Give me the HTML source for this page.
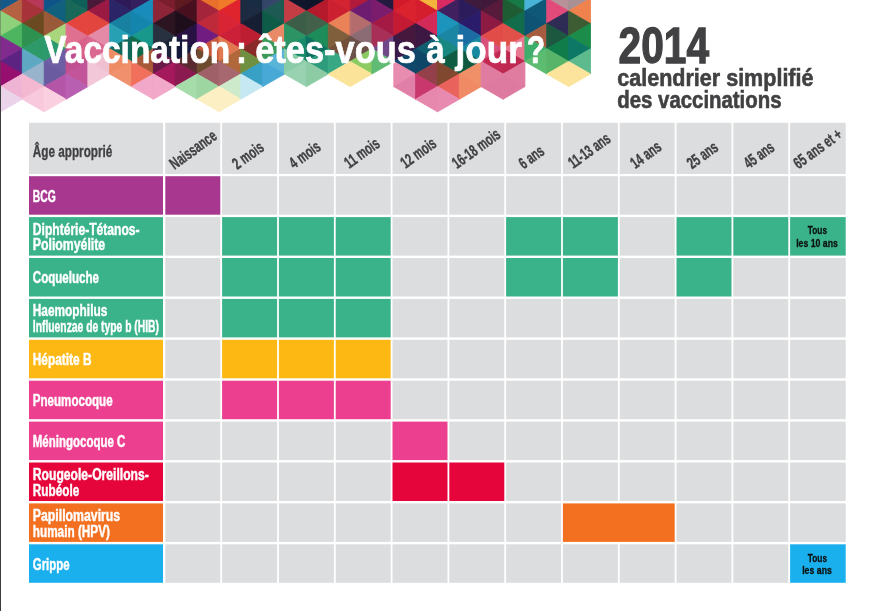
<!DOCTYPE html><html lang="fr"><head><meta charset="utf-8"><title>Vaccination : êtes-vous à jour ? 2014</title>
<style>html,body{margin:0;padding:0;background:#fff}svg{display:block}text{font-family:"Liberation Sans",sans-serif;font-weight:bold}</style></head><body>
<svg width="874" height="611" viewBox="0 0 874 611">
<rect width="874" height="611" fill="#fff"/>
<g shape-rendering="geometricPrecision">
<polygon points="0.50,-14.20 0.50,11.00 22.35,-1.60" fill="#15588A" stroke="#15588A" stroke-width="0.9" stroke-linejoin="round"/>
<polygon points="22.35,-1.60 22.35,23.60 0.50,11.00" fill="#B46242" stroke="#B46242" stroke-width="0.9" stroke-linejoin="round"/>
<polygon points="0.50,11.00 0.50,36.20 22.35,23.60" fill="#8FD07A" stroke="#8FD07A" stroke-width="0.9" stroke-linejoin="round"/>
<polygon points="22.35,23.60 22.35,48.80 0.50,36.20" fill="#4DB560" stroke="#4DB560" stroke-width="0.9" stroke-linejoin="round"/>
<polygon points="0.50,36.20 0.50,61.40 22.35,48.80" fill="#812B8E" stroke="#812B8E" stroke-width="0.9" stroke-linejoin="round"/>
<polygon points="22.35,48.80 22.35,74.00 0.50,61.40" fill="#5C2382" stroke="#5C2382" stroke-width="0.9" stroke-linejoin="round"/>
<polygon points="0.50,61.40 0.50,86.60 22.35,74.00" fill="#960F6F" stroke="#960F6F" stroke-width="0.9" stroke-linejoin="round"/>
<polygon points="22.35,74.00 22.35,99.20 0.50,86.60" fill="#EFB4D4" stroke="#EFB4D4" stroke-width="0.9" stroke-linejoin="round"/>
<polygon points="0.50,86.60 0.50,111.80 22.35,99.20" fill="#EBD3EA" stroke="#EBD3EA" stroke-width="0.9" stroke-linejoin="round"/>
<polygon points="44.20,-14.20 44.20,11.00 22.35,-1.60" fill="#B8385A" stroke="#B8385A" stroke-width="0.9" stroke-linejoin="round"/>
<polygon points="22.35,-1.60 22.35,23.60 44.20,11.00" fill="#A8323A" stroke="#A8323A" stroke-width="0.9" stroke-linejoin="round"/>
<polygon points="44.20,11.00 44.20,36.20 22.35,23.60" fill="#6B4A22" stroke="#6B4A22" stroke-width="0.9" stroke-linejoin="round"/>
<polygon points="22.35,23.60 22.35,48.80 44.20,36.20" fill="#2F9150" stroke="#2F9150" stroke-width="0.9" stroke-linejoin="round"/>
<polygon points="44.20,36.20 44.20,61.40 22.35,48.80" fill="#2E9A6A" stroke="#2E9A6A" stroke-width="0.9" stroke-linejoin="round"/>
<polygon points="22.35,48.80 22.35,74.00 44.20,61.40" fill="#5FA8C4" stroke="#5FA8C4" stroke-width="0.9" stroke-linejoin="round"/>
<polygon points="44.20,61.40 44.20,86.60 22.35,74.00" fill="#98B4CC" stroke="#98B4CC" stroke-width="0.9" stroke-linejoin="round"/>
<polygon points="22.35,74.00 22.35,99.20 44.20,86.60" fill="#F4B8D0" stroke="#F4B8D0" stroke-width="0.9" stroke-linejoin="round"/>
<polygon points="44.20,86.60 44.20,111.80 22.35,99.20" fill="#F8C8DC" stroke="#F8C8DC" stroke-width="0.9" stroke-linejoin="round"/>
<polygon points="44.20,-14.20 44.20,11.00 66.05,-1.60" fill="#0F5488" stroke="#0F5488" stroke-width="0.9" stroke-linejoin="round"/>
<polygon points="66.05,-1.60 66.05,23.60 44.20,11.00" fill="#10607E" stroke="#10607E" stroke-width="0.9" stroke-linejoin="round"/>
<polygon points="44.20,11.00 44.20,36.20 66.05,23.60" fill="#9A5A3A" stroke="#9A5A3A" stroke-width="0.9" stroke-linejoin="round"/>
<polygon points="66.05,23.60 66.05,48.80 44.20,36.20" fill="#A8D67C" stroke="#A8D67C" stroke-width="0.9" stroke-linejoin="round"/>
<polygon points="44.20,36.20 44.20,61.40 66.05,48.80" fill="#2C9A6C" stroke="#2C9A6C" stroke-width="0.9" stroke-linejoin="round"/>
<polygon points="66.05,48.80 66.05,74.00 44.20,61.40" fill="#6E5FA5" stroke="#6E5FA5" stroke-width="0.9" stroke-linejoin="round"/>
<polygon points="44.20,61.40 44.20,86.60 66.05,74.00" fill="#6A5BA0" stroke="#6A5BA0" stroke-width="0.9" stroke-linejoin="round"/>
<polygon points="66.05,74.00 66.05,99.20 44.20,86.60" fill="#B455A8" stroke="#B455A8" stroke-width="0.9" stroke-linejoin="round"/>
<polygon points="44.20,86.60 44.20,111.80 66.05,99.20" fill="#FAD0E0" stroke="#FAD0E0" stroke-width="0.9" stroke-linejoin="round"/>
<polygon points="87.90,-14.20 87.90,11.00 66.05,-1.60" fill="#0E5F58" stroke="#0E5F58" stroke-width="0.9" stroke-linejoin="round"/>
<polygon points="66.05,-1.60 66.05,23.60 87.90,11.00" fill="#1A6858" stroke="#1A6858" stroke-width="0.9" stroke-linejoin="round"/>
<polygon points="87.90,11.00 87.90,36.20 66.05,23.60" fill="#E4453F" stroke="#E4453F" stroke-width="0.9" stroke-linejoin="round"/>
<polygon points="66.05,23.60 66.05,48.80 87.90,36.20" fill="#E0708F" stroke="#E0708F" stroke-width="0.9" stroke-linejoin="round"/>
<polygon points="87.90,36.20 87.90,61.40 66.05,48.80" fill="#D9608A" stroke="#D9608A" stroke-width="0.9" stroke-linejoin="round"/>
<polygon points="66.05,48.80 66.05,74.00 87.90,61.40" fill="#C0508F" stroke="#C0508F" stroke-width="0.9" stroke-linejoin="round"/>
<polygon points="87.90,61.40 87.90,86.60 66.05,74.00" fill="#C2559A" stroke="#C2559A" stroke-width="0.9" stroke-linejoin="round"/>
<polygon points="66.05,74.00 66.05,99.20 87.90,86.60" fill="#B95FB2" stroke="#B95FB2" stroke-width="0.9" stroke-linejoin="round"/>
<polygon points="87.90,-14.20 87.90,11.00 109.75,-1.60" fill="#4A1838" stroke="#4A1838" stroke-width="0.9" stroke-linejoin="round"/>
<polygon points="109.75,-1.60 109.75,23.60 87.90,11.00" fill="#9A1A44" stroke="#9A1A44" stroke-width="0.9" stroke-linejoin="round"/>
<polygon points="87.90,11.00 87.90,36.20 109.75,23.60" fill="#E2453D" stroke="#E2453D" stroke-width="0.9" stroke-linejoin="round"/>
<polygon points="109.75,23.60 109.75,48.80 87.90,36.20" fill="#E58AA6" stroke="#E58AA6" stroke-width="0.9" stroke-linejoin="round"/>
<polygon points="87.90,36.20 87.90,61.40 109.75,48.80" fill="#DA6890" stroke="#DA6890" stroke-width="0.9" stroke-linejoin="round"/>
<polygon points="109.75,48.80 109.75,74.00 87.90,61.40" fill="#EFC0D0" stroke="#EFC0D0" stroke-width="0.9" stroke-linejoin="round"/>
<polygon points="87.90,61.40 87.90,86.60 109.75,74.00" fill="#F2C8D8" stroke="#F2C8D8" stroke-width="0.9" stroke-linejoin="round"/>
<polygon points="131.60,-14.20 131.60,11.00 109.75,-1.60" fill="#2E1A58" stroke="#2E1A58" stroke-width="0.9" stroke-linejoin="round"/>
<polygon points="109.75,-1.60 109.75,23.60 131.60,11.00" fill="#2B2466" stroke="#2B2466" stroke-width="0.9" stroke-linejoin="round"/>
<polygon points="131.60,11.00 131.60,36.20 109.75,23.60" fill="#1880A0" stroke="#1880A0" stroke-width="0.9" stroke-linejoin="round"/>
<polygon points="109.75,23.60 109.75,48.80 131.60,36.20" fill="#28A0B4" stroke="#28A0B4" stroke-width="0.9" stroke-linejoin="round"/>
<polygon points="131.60,36.20 131.60,61.40 109.75,48.80" fill="#106858" stroke="#106858" stroke-width="0.9" stroke-linejoin="round"/>
<polygon points="109.75,48.80 109.75,74.00 131.60,61.40" fill="#EE8C64" stroke="#EE8C64" stroke-width="0.9" stroke-linejoin="round"/>
<polygon points="131.60,61.40 131.60,86.60 109.75,74.00" fill="#F0906C" stroke="#F0906C" stroke-width="0.9" stroke-linejoin="round"/>
<polygon points="131.60,-14.20 131.60,11.00 153.45,-1.60" fill="#35205E" stroke="#35205E" stroke-width="0.9" stroke-linejoin="round"/>
<polygon points="153.45,-1.60 153.45,23.60 131.60,11.00" fill="#1A8CBC" stroke="#1A8CBC" stroke-width="0.9" stroke-linejoin="round"/>
<polygon points="131.60,11.00 131.60,36.20 153.45,23.60" fill="#1486AE" stroke="#1486AE" stroke-width="0.9" stroke-linejoin="round"/>
<polygon points="153.45,23.60 153.45,48.80 131.60,36.20" fill="#18988A" stroke="#18988A" stroke-width="0.9" stroke-linejoin="round"/>
<polygon points="131.60,36.20 131.60,61.40 153.45,48.80" fill="#0F6A4A" stroke="#0F6A4A" stroke-width="0.9" stroke-linejoin="round"/>
<polygon points="153.45,48.80 153.45,74.00 131.60,61.40" fill="#A85A38" stroke="#A85A38" stroke-width="0.9" stroke-linejoin="round"/>
<polygon points="131.60,61.40 131.60,86.60 153.45,74.00" fill="#F0705C" stroke="#F0705C" stroke-width="0.9" stroke-linejoin="round"/>
<polygon points="153.45,74.00 153.45,99.20 131.60,86.60" fill="#F2A8C8" stroke="#F2A8C8" stroke-width="0.9" stroke-linejoin="round"/>
<polygon points="175.30,-14.20 175.30,11.00 153.45,-1.60" fill="#7A1E2E" stroke="#7A1E2E" stroke-width="0.9" stroke-linejoin="round"/>
<polygon points="153.45,-1.60 153.45,23.60 175.30,11.00" fill="#8E2438" stroke="#8E2438" stroke-width="0.9" stroke-linejoin="round"/>
<polygon points="175.30,11.00 175.30,36.20 153.45,23.60" fill="#2C1420" stroke="#2C1420" stroke-width="0.9" stroke-linejoin="round"/>
<polygon points="153.45,23.60 153.45,48.80 175.30,36.20" fill="#27313F" stroke="#27313F" stroke-width="0.9" stroke-linejoin="round"/>
<polygon points="175.30,36.20 175.30,61.40 153.45,48.80" fill="#1A2238" stroke="#1A2238" stroke-width="0.9" stroke-linejoin="round"/>
<polygon points="153.45,48.80 153.45,74.00 175.30,61.40" fill="#6A1A48" stroke="#6A1A48" stroke-width="0.9" stroke-linejoin="round"/>
<polygon points="175.30,61.40 175.30,86.60 153.45,74.00" fill="#A4185C" stroke="#A4185C" stroke-width="0.9" stroke-linejoin="round"/>
<polygon points="153.45,74.00 153.45,99.20 175.30,86.60" fill="#F2A8C8" stroke="#F2A8C8" stroke-width="0.9" stroke-linejoin="round"/>
<polygon points="175.30,-14.20 175.30,11.00 197.15,-1.60" fill="#5E1A20" stroke="#5E1A20" stroke-width="0.9" stroke-linejoin="round"/>
<polygon points="197.15,-1.60 197.15,23.60 175.30,11.00" fill="#48101E" stroke="#48101E" stroke-width="0.9" stroke-linejoin="round"/>
<polygon points="175.30,11.00 175.30,36.20 197.15,23.60" fill="#1E0E1C" stroke="#1E0E1C" stroke-width="0.9" stroke-linejoin="round"/>
<polygon points="197.15,23.60 197.15,48.80 175.30,36.20" fill="#281244" stroke="#281244" stroke-width="0.9" stroke-linejoin="round"/>
<polygon points="175.30,36.20 175.30,61.40 197.15,48.80" fill="#14183A" stroke="#14183A" stroke-width="0.9" stroke-linejoin="round"/>
<polygon points="197.15,48.80 197.15,74.00 175.30,61.40" fill="#5A2A30" stroke="#5A2A30" stroke-width="0.9" stroke-linejoin="round"/>
<polygon points="175.30,61.40 175.30,86.60 197.15,74.00" fill="#8A1A50" stroke="#8A1A50" stroke-width="0.9" stroke-linejoin="round"/>
<polygon points="197.15,74.00 197.15,99.20 175.30,86.60" fill="#A6DBAA" stroke="#A6DBAA" stroke-width="0.9" stroke-linejoin="round"/>
<polygon points="219.00,-14.20 219.00,11.00 197.15,-1.60" fill="#E8702A" stroke="#E8702A" stroke-width="0.9" stroke-linejoin="round"/>
<polygon points="197.15,-1.60 197.15,23.60 219.00,11.00" fill="#A4243C" stroke="#A4243C" stroke-width="0.9" stroke-linejoin="round"/>
<polygon points="219.00,11.00 219.00,36.20 197.15,23.60" fill="#BE2A3A" stroke="#BE2A3A" stroke-width="0.9" stroke-linejoin="round"/>
<polygon points="197.15,23.60 197.15,48.80 219.00,36.20" fill="#701C80" stroke="#701C80" stroke-width="0.9" stroke-linejoin="round"/>
<polygon points="219.00,36.20 219.00,61.40 197.15,48.80" fill="#C8583C" stroke="#C8583C" stroke-width="0.9" stroke-linejoin="round"/>
<polygon points="197.15,48.80 197.15,74.00 219.00,61.40" fill="#6E4A2E" stroke="#6E4A2E" stroke-width="0.9" stroke-linejoin="round"/>
<polygon points="219.00,61.40 219.00,86.60 197.15,74.00" fill="#A06068" stroke="#A06068" stroke-width="0.9" stroke-linejoin="round"/>
<polygon points="197.15,74.00 197.15,99.20 219.00,86.60" fill="#9ED6A2" stroke="#9ED6A2" stroke-width="0.9" stroke-linejoin="round"/>
<polygon points="219.00,86.60 219.00,111.80 197.15,99.20" fill="#FDEFC4" stroke="#FDEFC4" stroke-width="0.9" stroke-linejoin="round"/>
<polygon points="219.00,-14.20 219.00,11.00 240.85,-1.60" fill="#F07A2A" stroke="#F07A2A" stroke-width="0.9" stroke-linejoin="round"/>
<polygon points="240.85,-1.60 240.85,23.60 219.00,11.00" fill="#E0242E" stroke="#E0242E" stroke-width="0.9" stroke-linejoin="round"/>
<polygon points="219.00,11.00 219.00,36.20 240.85,23.60" fill="#D82434" stroke="#D82434" stroke-width="0.9" stroke-linejoin="round"/>
<polygon points="240.85,23.60 240.85,48.80 219.00,36.20" fill="#CC2038" stroke="#CC2038" stroke-width="0.9" stroke-linejoin="round"/>
<polygon points="219.00,36.20 219.00,61.40 240.85,48.80" fill="#E07850" stroke="#E07850" stroke-width="0.9" stroke-linejoin="round"/>
<polygon points="240.85,48.80 240.85,74.00 219.00,61.40" fill="#B0683A" stroke="#B0683A" stroke-width="0.9" stroke-linejoin="round"/>
<polygon points="219.00,61.40 219.00,86.60 240.85,74.00" fill="#A86870" stroke="#A86870" stroke-width="0.9" stroke-linejoin="round"/>
<polygon points="240.85,74.00 240.85,99.20 219.00,86.60" fill="#CDEBCB" stroke="#CDEBCB" stroke-width="0.9" stroke-linejoin="round"/>
<polygon points="219.00,86.60 219.00,111.80 240.85,99.20" fill="#FDEFC4" stroke="#FDEFC4" stroke-width="0.9" stroke-linejoin="round"/>
<polygon points="262.70,-14.20 262.70,11.00 240.85,-1.60" fill="#182C44" stroke="#182C44" stroke-width="0.9" stroke-linejoin="round"/>
<polygon points="240.85,-1.60 240.85,23.60 262.70,11.00" fill="#1C2A42" stroke="#1C2A42" stroke-width="0.9" stroke-linejoin="round"/>
<polygon points="262.70,11.00 262.70,36.20 240.85,23.60" fill="#161E34" stroke="#161E34" stroke-width="0.9" stroke-linejoin="round"/>
<polygon points="240.85,23.60 240.85,48.80 262.70,36.20" fill="#BE1E32" stroke="#BE1E32" stroke-width="0.9" stroke-linejoin="round"/>
<polygon points="262.70,36.20 262.70,61.40 240.85,48.80" fill="#8A2A28" stroke="#8A2A28" stroke-width="0.9" stroke-linejoin="round"/>
<polygon points="240.85,48.80 240.85,74.00 262.70,61.40" fill="#6E9040" stroke="#6E9040" stroke-width="0.9" stroke-linejoin="round"/>
<polygon points="262.70,61.40 262.70,86.60 240.85,74.00" fill="#38A0C4" stroke="#38A0C4" stroke-width="0.9" stroke-linejoin="round"/>
<polygon points="240.85,74.00 240.85,99.20 262.70,86.60" fill="#C6E8F2" stroke="#C6E8F2" stroke-width="0.9" stroke-linejoin="round"/>
<polygon points="262.70,-14.20 262.70,11.00 284.55,-1.60" fill="#34466A" stroke="#34466A" stroke-width="0.9" stroke-linejoin="round"/>
<polygon points="284.55,-1.60 284.55,23.60 262.70,11.00" fill="#1E5A54" stroke="#1E5A54" stroke-width="0.9" stroke-linejoin="round"/>
<polygon points="262.70,11.00 262.70,36.20 284.55,23.60" fill="#0E5C48" stroke="#0E5C48" stroke-width="0.9" stroke-linejoin="round"/>
<polygon points="284.55,23.60 284.55,48.80 262.70,36.20" fill="#E88A68" stroke="#E88A68" stroke-width="0.9" stroke-linejoin="round"/>
<polygon points="262.70,36.20 262.70,61.40 284.55,48.80" fill="#3A9A5A" stroke="#3A9A5A" stroke-width="0.9" stroke-linejoin="round"/>
<polygon points="284.55,48.80 284.55,74.00 262.70,61.40" fill="#5AB4D8" stroke="#5AB4D8" stroke-width="0.9" stroke-linejoin="round"/>
<polygon points="262.70,61.40 262.70,86.60 284.55,74.00" fill="#48A8D6" stroke="#48A8D6" stroke-width="0.9" stroke-linejoin="round"/>
<polygon points="306.40,-14.20 306.40,11.00 284.55,-1.60" fill="#10162C" stroke="#10162C" stroke-width="0.9" stroke-linejoin="round"/>
<polygon points="284.55,-1.60 284.55,23.60 306.40,11.00" fill="#C43C44" stroke="#C43C44" stroke-width="0.9" stroke-linejoin="round"/>
<polygon points="306.40,11.00 306.40,36.20 284.55,23.60" fill="#3C5E48" stroke="#3C5E48" stroke-width="0.9" stroke-linejoin="round"/>
<polygon points="284.55,23.60 284.55,48.80 306.40,36.20" fill="#2C9464" stroke="#2C9464" stroke-width="0.9" stroke-linejoin="round"/>
<polygon points="306.40,36.20 306.40,61.40 284.55,48.80" fill="#1A8A6A" stroke="#1A8A6A" stroke-width="0.9" stroke-linejoin="round"/>
<polygon points="284.55,48.80 284.55,74.00 306.40,61.40" fill="#8ACCA8" stroke="#8ACCA8" stroke-width="0.9" stroke-linejoin="round"/>
<polygon points="306.40,61.40 306.40,86.60 284.55,74.00" fill="#98D2B0" stroke="#98D2B0" stroke-width="0.9" stroke-linejoin="round"/>
<polygon points="306.40,-14.20 306.40,11.00 328.25,-1.60" fill="#0E142A" stroke="#0E142A" stroke-width="0.9" stroke-linejoin="round"/>
<polygon points="328.25,-1.60 328.25,23.60 306.40,11.00" fill="#B41A2C" stroke="#B41A2C" stroke-width="0.9" stroke-linejoin="round"/>
<polygon points="306.40,11.00 306.40,36.20 328.25,23.60" fill="#42604A" stroke="#42604A" stroke-width="0.9" stroke-linejoin="round"/>
<polygon points="328.25,23.60 328.25,48.80 306.40,36.20" fill="#1C8C5A" stroke="#1C8C5A" stroke-width="0.9" stroke-linejoin="round"/>
<polygon points="306.40,36.20 306.40,61.40 328.25,48.80" fill="#0F7060" stroke="#0F7060" stroke-width="0.9" stroke-linejoin="round"/>
<polygon points="328.25,48.80 328.25,74.00 306.40,61.40" fill="#2E9C7C" stroke="#2E9C7C" stroke-width="0.9" stroke-linejoin="round"/>
<polygon points="306.40,61.40 306.40,86.60 328.25,74.00" fill="#8CCBA4" stroke="#8CCBA4" stroke-width="0.9" stroke-linejoin="round"/>
<polygon points="350.10,-14.20 350.10,11.00 328.25,-1.60" fill="#D42432" stroke="#D42432" stroke-width="0.9" stroke-linejoin="round"/>
<polygon points="328.25,-1.60 328.25,23.60 350.10,11.00" fill="#CC2030" stroke="#CC2030" stroke-width="0.9" stroke-linejoin="round"/>
<polygon points="350.10,11.00 350.10,36.20 328.25,23.60" fill="#EA8258" stroke="#EA8258" stroke-width="0.9" stroke-linejoin="round"/>
<polygon points="328.25,23.60 328.25,48.80 350.10,36.20" fill="#80603C" stroke="#80603C" stroke-width="0.9" stroke-linejoin="round"/>
<polygon points="350.10,36.20 350.10,61.40 328.25,48.80" fill="#74503A" stroke="#74503A" stroke-width="0.9" stroke-linejoin="round"/>
<polygon points="328.25,48.80 328.25,74.00 350.10,61.40" fill="#38A884" stroke="#38A884" stroke-width="0.9" stroke-linejoin="round"/>
<polygon points="350.10,61.40 350.10,86.60 328.25,74.00" fill="#FBE49A" stroke="#FBE49A" stroke-width="0.9" stroke-linejoin="round"/>
<polygon points="350.10,-14.20 350.10,11.00 371.95,-1.60" fill="#B21A3C" stroke="#B21A3C" stroke-width="0.9" stroke-linejoin="round"/>
<polygon points="371.95,-1.60 371.95,23.60 350.10,11.00" fill="#6E1C70" stroke="#6E1C70" stroke-width="0.9" stroke-linejoin="round"/>
<polygon points="350.10,11.00 350.10,36.20 371.95,23.60" fill="#B46C6C" stroke="#B46C6C" stroke-width="0.9" stroke-linejoin="round"/>
<polygon points="371.95,23.60 371.95,48.80 350.10,36.20" fill="#8C6C74" stroke="#8C6C74" stroke-width="0.9" stroke-linejoin="round"/>
<polygon points="350.10,36.20 350.10,61.40 371.95,48.80" fill="#6A5048" stroke="#6A5048" stroke-width="0.9" stroke-linejoin="round"/>
<polygon points="371.95,48.80 371.95,74.00 350.10,61.40" fill="#8CCB62" stroke="#8CCB62" stroke-width="0.9" stroke-linejoin="round"/>
<polygon points="350.10,61.40 350.10,86.60 371.95,74.00" fill="#FBE49A" stroke="#FBE49A" stroke-width="0.9" stroke-linejoin="round"/>
<polygon points="393.80,-14.20 393.80,11.00 371.95,-1.60" fill="#241A40" stroke="#241A40" stroke-width="0.9" stroke-linejoin="round"/>
<polygon points="371.95,-1.60 371.95,23.60 393.80,11.00" fill="#7C1C6C" stroke="#7C1C6C" stroke-width="0.9" stroke-linejoin="round"/>
<polygon points="393.80,11.00 393.80,36.20 371.95,23.60" fill="#A41A44" stroke="#A41A44" stroke-width="0.9" stroke-linejoin="round"/>
<polygon points="371.95,23.60 371.95,48.80 393.80,36.20" fill="#A83058" stroke="#A83058" stroke-width="0.9" stroke-linejoin="round"/>
<polygon points="393.80,36.20 393.80,61.40 371.95,48.80" fill="#70488A" stroke="#70488A" stroke-width="0.9" stroke-linejoin="round"/>
<polygon points="371.95,48.80 371.95,74.00 393.80,61.40" fill="#60BC74" stroke="#60BC74" stroke-width="0.9" stroke-linejoin="round"/>
<polygon points="393.80,-14.20 393.80,11.00 415.65,-1.60" fill="#D21A2A" stroke="#D21A2A" stroke-width="0.9" stroke-linejoin="round"/>
<polygon points="415.65,-1.60 415.65,23.60 393.80,11.00" fill="#DA222E" stroke="#DA222E" stroke-width="0.9" stroke-linejoin="round"/>
<polygon points="393.80,11.00 393.80,36.20 415.65,23.60" fill="#C41A34" stroke="#C41A34" stroke-width="0.9" stroke-linejoin="round"/>
<polygon points="415.65,23.60 415.65,48.80 393.80,36.20" fill="#46183E" stroke="#46183E" stroke-width="0.9" stroke-linejoin="round"/>
<polygon points="393.80,36.20 393.80,61.40 415.65,48.80" fill="#3A1A48" stroke="#3A1A48" stroke-width="0.9" stroke-linejoin="round"/>
<polygon points="415.65,48.80 415.65,74.00 393.80,61.40" fill="#10486C" stroke="#10486C" stroke-width="0.9" stroke-linejoin="round"/>
<polygon points="393.80,61.40 393.80,86.60 415.65,74.00" fill="#E88CB0" stroke="#E88CB0" stroke-width="0.9" stroke-linejoin="round"/>
<polygon points="415.65,74.00 415.65,99.20 393.80,86.60" fill="#E080A8" stroke="#E080A8" stroke-width="0.9" stroke-linejoin="round"/>
<polygon points="437.50,-14.20 437.50,11.00 415.65,-1.60" fill="#F2B43A" stroke="#F2B43A" stroke-width="0.9" stroke-linejoin="round"/>
<polygon points="415.65,-1.60 415.65,23.60 437.50,11.00" fill="#D41E2E" stroke="#D41E2E" stroke-width="0.9" stroke-linejoin="round"/>
<polygon points="437.50,11.00 437.50,36.20 415.65,23.60" fill="#D42A5A" stroke="#D42A5A" stroke-width="0.9" stroke-linejoin="round"/>
<polygon points="415.65,23.60 415.65,48.80 437.50,36.20" fill="#3C1842" stroke="#3C1842" stroke-width="0.9" stroke-linejoin="round"/>
<polygon points="437.50,36.20 437.50,61.40 415.65,48.80" fill="#0E5E70" stroke="#0E5E70" stroke-width="0.9" stroke-linejoin="round"/>
<polygon points="415.65,48.80 415.65,74.00 437.50,61.40" fill="#0E4668" stroke="#0E4668" stroke-width="0.9" stroke-linejoin="round"/>
<polygon points="437.50,61.40 437.50,86.60 415.65,74.00" fill="#94404A" stroke="#94404A" stroke-width="0.9" stroke-linejoin="round"/>
<polygon points="415.65,74.00 415.65,99.20 437.50,86.60" fill="#C8386C" stroke="#C8386C" stroke-width="0.9" stroke-linejoin="round"/>
<polygon points="437.50,86.60 437.50,111.80 415.65,99.20" fill="#E687AE" stroke="#E687AE" stroke-width="0.9" stroke-linejoin="round"/>
<polygon points="437.50,-14.20 437.50,11.00 459.35,-1.60" fill="#DA2A62" stroke="#DA2A62" stroke-width="0.9" stroke-linejoin="round"/>
<polygon points="459.35,-1.60 459.35,23.60 437.50,11.00" fill="#40205E" stroke="#40205E" stroke-width="0.9" stroke-linejoin="round"/>
<polygon points="437.50,11.00 437.50,36.20 459.35,23.60" fill="#1C94BC" stroke="#1C94BC" stroke-width="0.9" stroke-linejoin="round"/>
<polygon points="459.35,23.60 459.35,48.80 437.50,36.20" fill="#1A86A4" stroke="#1A86A4" stroke-width="0.9" stroke-linejoin="round"/>
<polygon points="437.50,36.20 437.50,61.40 459.35,48.80" fill="#188880" stroke="#188880" stroke-width="0.9" stroke-linejoin="round"/>
<polygon points="459.35,48.80 459.35,74.00 437.50,61.40" fill="#0E5C42" stroke="#0E5C42" stroke-width="0.9" stroke-linejoin="round"/>
<polygon points="437.50,61.40 437.50,86.60 459.35,74.00" fill="#80482E" stroke="#80482E" stroke-width="0.9" stroke-linejoin="round"/>
<polygon points="459.35,74.00 459.35,99.20 437.50,86.60" fill="#EA625C" stroke="#EA625C" stroke-width="0.9" stroke-linejoin="round"/>
<polygon points="437.50,86.60 437.50,111.80 459.35,99.20" fill="#E88AB0" stroke="#E88AB0" stroke-width="0.9" stroke-linejoin="round"/>
<polygon points="481.20,-14.20 481.20,11.00 459.35,-1.60" fill="#3E1A3C" stroke="#3E1A3C" stroke-width="0.9" stroke-linejoin="round"/>
<polygon points="459.35,-1.60 459.35,23.60 481.20,11.00" fill="#2C1C5C" stroke="#2C1C5C" stroke-width="0.9" stroke-linejoin="round"/>
<polygon points="481.20,11.00 481.20,36.20 459.35,23.60" fill="#2A1C6A" stroke="#2A1C6A" stroke-width="0.9" stroke-linejoin="round"/>
<polygon points="459.35,23.60 459.35,48.80 481.20,36.20" fill="#1C6CA4" stroke="#1C6CA4" stroke-width="0.9" stroke-linejoin="round"/>
<polygon points="481.20,36.20 481.20,61.40 459.35,48.80" fill="#1888A0" stroke="#1888A0" stroke-width="0.9" stroke-linejoin="round"/>
<polygon points="459.35,48.80 459.35,74.00 481.20,61.40" fill="#0E5A40" stroke="#0E5A40" stroke-width="0.9" stroke-linejoin="round"/>
<polygon points="481.20,61.40 481.20,86.60 459.35,74.00" fill="#F09068" stroke="#F09068" stroke-width="0.9" stroke-linejoin="round"/>
<polygon points="459.35,74.00 459.35,99.20 481.20,86.60" fill="#F08A64" stroke="#F08A64" stroke-width="0.9" stroke-linejoin="round"/>
<polygon points="481.20,-14.20 481.20,11.00 503.05,-1.60" fill="#40183A" stroke="#40183A" stroke-width="0.9" stroke-linejoin="round"/>
<polygon points="503.05,-1.60 503.05,23.60 481.20,11.00" fill="#581A3A" stroke="#581A3A" stroke-width="0.9" stroke-linejoin="round"/>
<polygon points="481.20,11.00 481.20,36.20 503.05,23.60" fill="#8C1A42" stroke="#8C1A42" stroke-width="0.9" stroke-linejoin="round"/>
<polygon points="503.05,23.60 503.05,48.80 481.20,36.20" fill="#E24C48" stroke="#E24C48" stroke-width="0.9" stroke-linejoin="round"/>
<polygon points="481.20,36.20 481.20,61.40 503.05,48.80" fill="#D8507A" stroke="#D8507A" stroke-width="0.9" stroke-linejoin="round"/>
<polygon points="503.05,48.80 503.05,74.00 481.20,61.40" fill="#C22A54" stroke="#C22A54" stroke-width="0.9" stroke-linejoin="round"/>
<polygon points="481.20,61.40 481.20,86.60 503.05,74.00" fill="#E07CA0" stroke="#E07CA0" stroke-width="0.9" stroke-linejoin="round"/>
<polygon points="503.05,74.00 503.05,99.20 481.20,86.60" fill="#DE7AA0" stroke="#DE7AA0" stroke-width="0.9" stroke-linejoin="round"/>
<polygon points="524.90,-14.20 524.90,11.00 503.05,-1.60" fill="#157A48" stroke="#157A48" stroke-width="0.9" stroke-linejoin="round"/>
<polygon points="503.05,-1.60 503.05,23.60 524.90,11.00" fill="#1E5C34" stroke="#1E5C34" stroke-width="0.9" stroke-linejoin="round"/>
<polygon points="524.90,11.00 524.90,36.20 503.05,23.60" fill="#106C4A" stroke="#106C4A" stroke-width="0.9" stroke-linejoin="round"/>
<polygon points="503.05,23.60 503.05,48.80 524.90,36.20" fill="#E2504A" stroke="#E2504A" stroke-width="0.9" stroke-linejoin="round"/>
<polygon points="524.90,36.20 524.90,61.40 503.05,48.80" fill="#E87890" stroke="#E87890" stroke-width="0.9" stroke-linejoin="round"/>
<polygon points="503.05,48.80 503.05,74.00 524.90,61.40" fill="#BE2850" stroke="#BE2850" stroke-width="0.9" stroke-linejoin="round"/>
<polygon points="524.90,61.40 524.90,86.60 503.05,74.00" fill="#E07CA0" stroke="#E07CA0" stroke-width="0.9" stroke-linejoin="round"/>
<polygon points="503.05,74.00 503.05,99.20 524.90,86.60" fill="#DE7AA0" stroke="#DE7AA0" stroke-width="0.9" stroke-linejoin="round"/>
<polygon points="524.90,-14.20 524.90,11.00 546.75,-1.60" fill="#48B4D8" stroke="#48B4D8" stroke-width="0.9" stroke-linejoin="round"/>
<polygon points="546.75,-1.60 546.75,23.60 524.90,11.00" fill="#105878" stroke="#105878" stroke-width="0.9" stroke-linejoin="round"/>
<polygon points="524.90,11.00 524.90,36.20 546.75,23.60" fill="#0E5274" stroke="#0E5274" stroke-width="0.9" stroke-linejoin="round"/>
<polygon points="546.75,23.60 546.75,48.80 524.90,36.20" fill="#A65C40" stroke="#A65C40" stroke-width="0.9" stroke-linejoin="round"/>
<polygon points="524.90,36.20 524.90,61.40 546.75,48.80" fill="#3FAE6C" stroke="#3FAE6C" stroke-width="0.9" stroke-linejoin="round"/>
<polygon points="546.75,48.80 546.75,74.00 524.90,61.40" fill="#5CBC70" stroke="#5CBC70" stroke-width="0.9" stroke-linejoin="round"/>
<polygon points="568.60,-14.20 568.60,11.00 546.75,-1.60" fill="#B89098" stroke="#B89098" stroke-width="0.9" stroke-linejoin="round"/>
<polygon points="546.75,-1.60 546.75,23.60 568.60,11.00" fill="#E24A7A" stroke="#E24A7A" stroke-width="0.9" stroke-linejoin="round"/>
<polygon points="568.60,11.00 568.60,36.20 546.75,23.60" fill="#2E2C54" stroke="#2E2C54" stroke-width="0.9" stroke-linejoin="round"/>
<polygon points="546.75,23.60 546.75,48.80 568.60,36.20" fill="#1C5840" stroke="#1C5840" stroke-width="0.9" stroke-linejoin="round"/>
<polygon points="568.60,36.20 568.60,61.40 546.75,48.80" fill="#107C4A" stroke="#107C4A" stroke-width="0.9" stroke-linejoin="round"/>
<polygon points="546.75,48.80 546.75,74.00 568.60,61.40" fill="#58B468" stroke="#58B468" stroke-width="0.9" stroke-linejoin="round"/>
<polygon points="568.60,61.40 568.60,86.60 546.75,74.00" fill="#FCE49C" stroke="#FCE49C" stroke-width="0.9" stroke-linejoin="round"/>
<polygon points="568.60,-14.20 568.60,11.00 590.45,-1.60" fill="#A89094" stroke="#A89094" stroke-width="0.9" stroke-linejoin="round"/>
<polygon points="590.45,-1.60 590.45,23.60 568.60,11.00" fill="#F0824E" stroke="#F0824E" stroke-width="0.9" stroke-linejoin="round"/>
<polygon points="568.60,11.00 568.60,36.20 590.45,23.60" fill="#3E5C34" stroke="#3E5C34" stroke-width="0.9" stroke-linejoin="round"/>
<polygon points="590.45,23.60 590.45,48.80 568.60,36.20" fill="#1C8C4A" stroke="#1C8C4A" stroke-width="0.9" stroke-linejoin="round"/>
<polygon points="568.60,36.20 568.60,61.40 590.45,48.80" fill="#0E7866" stroke="#0E7866" stroke-width="0.9" stroke-linejoin="round"/>
<polygon points="590.45,48.80 590.45,74.00 568.60,61.40" fill="#5CBA8C" stroke="#5CBA8C" stroke-width="0.9" stroke-linejoin="round"/>
<polygon points="568.60,61.40 568.60,86.60 590.45,74.00" fill="#FCE49C" stroke="#FCE49C" stroke-width="0.9" stroke-linejoin="round"/>
</g>
<rect x="0" y="0" width="1" height="611" fill="#3d3d3f" opacity="0.35"/>
<rect x="0" y="84" width="1" height="527" fill="#3d3d3f"/>
<text x="44.3" y="62.8" font-size="39" fill="#fff" textLength="186" lengthAdjust="spacingAndGlyphs" stroke="#fff" stroke-width="0.7">Vaccination</text>
<text x="235.9" y="62.8" font-size="39" fill="#fff" textLength="11" lengthAdjust="spacingAndGlyphs" stroke="#fff" stroke-width="0.7">:</text>
<text x="255.2" y="62.8" font-size="39" fill="#fff" textLength="160.8" lengthAdjust="spacingAndGlyphs" stroke="#fff" stroke-width="0.7">êtes-vous</text>
<text x="426.3" y="62.8" font-size="39" fill="#fff" textLength="18.5" lengthAdjust="spacingAndGlyphs" stroke="#fff" stroke-width="0.7">à</text>
<text x="455.5" y="62.8" font-size="39" fill="#fff" textLength="66.3" lengthAdjust="spacingAndGlyphs" stroke="#fff" stroke-width="0.7">jour</text>
<text x="526.8" y="62.8" font-size="39" fill="#fff" textLength="18.4" lengthAdjust="spacingAndGlyphs" stroke="#fff" stroke-width="0.7">?</text>
<text x="618.6" y="63.1" font-size="50.1" fill="#414042" textLength="90.4" lengthAdjust="spacingAndGlyphs" stroke="#414042" stroke-width="1.3">2014</text>
<text x="617.3" y="86.0" font-size="24.2" fill="#414042" textLength="196.2" lengthAdjust="spacingAndGlyphs" stroke="#414042" stroke-width="0.6">calendrier simplifié</text>
<text x="617.3" y="107.8" font-size="24.2" fill="#414042" textLength="164.2" lengthAdjust="spacingAndGlyphs" stroke="#414042" stroke-width="0.6">des vaccinations</text>
<rect x="29" y="122.8" width="134" height="51.2" fill="#DCDDDE"/>
<rect x="165.3" y="122.8" width="55" height="51.2" fill="#DCDDDE"/>
<rect x="222.1" y="122.8" width="55" height="51.2" fill="#DCDDDE"/>
<rect x="278.9" y="122.8" width="55" height="51.2" fill="#DCDDDE"/>
<rect x="335.7" y="122.8" width="55" height="51.2" fill="#DCDDDE"/>
<rect x="392.5" y="122.8" width="55" height="51.2" fill="#DCDDDE"/>
<rect x="449.3" y="122.8" width="55" height="51.2" fill="#DCDDDE"/>
<rect x="506.1" y="122.8" width="55" height="51.2" fill="#DCDDDE"/>
<rect x="562.9" y="122.8" width="55" height="51.2" fill="#DCDDDE"/>
<rect x="619.7" y="122.8" width="55" height="51.2" fill="#DCDDDE"/>
<rect x="676.5" y="122.8" width="55" height="51.2" fill="#DCDDDE"/>
<rect x="733.3" y="122.8" width="55" height="51.2" fill="#DCDDDE"/>
<rect x="790.1" y="122.8" width="55.6" height="51.2" fill="#DCDDDE"/>
<text x="32.8" y="156.8" font-size="15.6" fill="#414042" textLength="79.6" lengthAdjust="spacingAndGlyphs" stroke="#414042" stroke-width="0.3">Âge approprié</text>
<text transform="translate(174.6,169.9) rotate(-36)" font-size="16.4" fill="#414042" stroke="#414042" stroke-width="0.35" textLength="53.8" lengthAdjust="spacingAndGlyphs">Naissance</text>
<text transform="translate(237.3,169.9) rotate(-36)" font-size="16.4" fill="#414042" stroke="#414042" stroke-width="0.35" textLength="34.4" lengthAdjust="spacingAndGlyphs">2 mois</text>
<text transform="translate(294.1,169.3) rotate(-36)" font-size="16.4" fill="#414042" stroke="#414042" stroke-width="0.35" textLength="34.4" lengthAdjust="spacingAndGlyphs">4 mois</text>
<text transform="translate(349.3,169.0) rotate(-36)" font-size="16.4" fill="#414042" stroke="#414042" stroke-width="0.35" textLength="39.2" lengthAdjust="spacingAndGlyphs">11 mois</text>
<text transform="translate(405.6,169.0) rotate(-36)" font-size="16.4" fill="#414042" stroke="#414042" stroke-width="0.35" textLength="39.5" lengthAdjust="spacingAndGlyphs">12 mois</text>
<text transform="translate(457.1,169.2) rotate(-36)" font-size="16.4" fill="#414042" stroke="#414042" stroke-width="0.35" textLength="55.0" lengthAdjust="spacingAndGlyphs">16-18 mois</text>
<text transform="translate(523.7,169.4) rotate(-36)" font-size="16.4" fill="#414042" stroke="#414042" stroke-width="0.35" textLength="26.9" lengthAdjust="spacingAndGlyphs">6 ans</text>
<text transform="translate(573.2,169.0) rotate(-36)" font-size="16.4" fill="#414042" stroke="#414042" stroke-width="0.35" textLength="47.7" lengthAdjust="spacingAndGlyphs">11-13 ans</text>
<text transform="translate(635.3,169.2) rotate(-36)" font-size="16.4" fill="#414042" stroke="#414042" stroke-width="0.35" textLength="33.9" lengthAdjust="spacingAndGlyphs">14 ans</text>
<text transform="translate(692.0,169.5) rotate(-36)" font-size="16.4" fill="#414042" stroke="#414042" stroke-width="0.35" textLength="33.7" lengthAdjust="spacingAndGlyphs">25 ans</text>
<text transform="translate(748.7,169.2) rotate(-36)" font-size="16.4" fill="#414042" stroke="#414042" stroke-width="0.35" textLength="33.2" lengthAdjust="spacingAndGlyphs">45 ans</text>
<text transform="translate(798.4,169.4) rotate(-36)" font-size="16.4" fill="#414042" stroke="#414042" stroke-width="0.35" textLength="55.7" lengthAdjust="spacingAndGlyphs">65 ans et +</text>
<rect x="29" y="176.2" width="134" height="38.5" fill="#A8388F"/>
<rect x="165.3" y="176.2" width="55.0" height="38.5" fill="#A8388F"/>
<rect x="222.1" y="176.2" width="55.0" height="38.5" fill="#DCDDDE"/>
<rect x="278.9" y="176.2" width="55.0" height="38.5" fill="#DCDDDE"/>
<rect x="335.7" y="176.2" width="55.0" height="38.5" fill="#DCDDDE"/>
<rect x="392.5" y="176.2" width="55.0" height="38.5" fill="#DCDDDE"/>
<rect x="449.3" y="176.2" width="55.0" height="38.5" fill="#DCDDDE"/>
<rect x="506.1" y="176.2" width="55.0" height="38.5" fill="#DCDDDE"/>
<rect x="562.9" y="176.2" width="55.0" height="38.5" fill="#DCDDDE"/>
<rect x="619.7" y="176.2" width="55.0" height="38.5" fill="#DCDDDE"/>
<rect x="676.5" y="176.2" width="55.0" height="38.5" fill="#DCDDDE"/>
<rect x="733.3" y="176.2" width="55.0" height="38.5" fill="#DCDDDE"/>
<rect x="790.1" y="176.2" width="55.6" height="38.5" fill="#DCDDDE"/>
<text x="32.8" y="201.6" font-size="15.8" fill="#fff" textLength="22.9" lengthAdjust="spacingAndGlyphs" stroke="#fff" stroke-width="0.45">BCG</text>
<rect x="29" y="217.1" width="134" height="38.5" fill="#3BB38A"/>
<rect x="165.3" y="217.1" width="55.0" height="38.5" fill="#DCDDDE"/>
<rect x="222.1" y="217.1" width="55.0" height="38.5" fill="#3BB38A"/>
<rect x="278.9" y="217.1" width="55.0" height="38.5" fill="#3BB38A"/>
<rect x="335.7" y="217.1" width="55.0" height="38.5" fill="#3BB38A"/>
<rect x="392.5" y="217.1" width="55.0" height="38.5" fill="#DCDDDE"/>
<rect x="449.3" y="217.1" width="55.0" height="38.5" fill="#DCDDDE"/>
<rect x="506.1" y="217.1" width="55.0" height="38.5" fill="#3BB38A"/>
<rect x="562.9" y="217.1" width="55.0" height="38.5" fill="#3BB38A"/>
<rect x="619.7" y="217.1" width="55.0" height="38.5" fill="#DCDDDE"/>
<rect x="676.5" y="217.1" width="55.0" height="38.5" fill="#3BB38A"/>
<rect x="733.3" y="217.1" width="55.0" height="38.5" fill="#3BB38A"/>
<rect x="790.1" y="217.1" width="55.6" height="38.5" fill="#3BB38A"/>
<text x="32.8" y="234.6" font-size="15.8" fill="#fff" textLength="106.8" lengthAdjust="spacingAndGlyphs" stroke="#fff" stroke-width="0.45">Diphtérie-Tétanos-</text>
<text x="32.8" y="250.4" font-size="15.8" fill="#fff" textLength="72.4" lengthAdjust="spacingAndGlyphs" stroke="#fff" stroke-width="0.45">Poliomyélite</text>
<rect x="29" y="258.0" width="134" height="38.5" fill="#3BB38A"/>
<rect x="165.3" y="258.0" width="55.0" height="38.5" fill="#DCDDDE"/>
<rect x="222.1" y="258.0" width="55.0" height="38.5" fill="#3BB38A"/>
<rect x="278.9" y="258.0" width="55.0" height="38.5" fill="#3BB38A"/>
<rect x="335.7" y="258.0" width="55.0" height="38.5" fill="#3BB38A"/>
<rect x="392.5" y="258.0" width="55.0" height="38.5" fill="#DCDDDE"/>
<rect x="449.3" y="258.0" width="55.0" height="38.5" fill="#DCDDDE"/>
<rect x="506.1" y="258.0" width="55.0" height="38.5" fill="#3BB38A"/>
<rect x="562.9" y="258.0" width="55.0" height="38.5" fill="#3BB38A"/>
<rect x="619.7" y="258.0" width="55.0" height="38.5" fill="#DCDDDE"/>
<rect x="676.5" y="258.0" width="55.0" height="38.5" fill="#3BB38A"/>
<rect x="733.3" y="258.0" width="55.0" height="38.5" fill="#DCDDDE"/>
<rect x="790.1" y="258.0" width="55.6" height="38.5" fill="#DCDDDE"/>
<text x="32.8" y="283.4" font-size="15.8" fill="#fff" textLength="66.2" lengthAdjust="spacingAndGlyphs" stroke="#fff" stroke-width="0.45">Coqueluche</text>
<rect x="29" y="298.9" width="134" height="38.5" fill="#3BB38A"/>
<rect x="165.3" y="298.9" width="55.0" height="38.5" fill="#DCDDDE"/>
<rect x="222.1" y="298.9" width="55.0" height="38.5" fill="#3BB38A"/>
<rect x="278.9" y="298.9" width="55.0" height="38.5" fill="#3BB38A"/>
<rect x="335.7" y="298.9" width="55.0" height="38.5" fill="#3BB38A"/>
<rect x="392.5" y="298.9" width="55.0" height="38.5" fill="#DCDDDE"/>
<rect x="449.3" y="298.9" width="55.0" height="38.5" fill="#DCDDDE"/>
<rect x="506.1" y="298.9" width="55.0" height="38.5" fill="#DCDDDE"/>
<rect x="562.9" y="298.9" width="55.0" height="38.5" fill="#DCDDDE"/>
<rect x="619.7" y="298.9" width="55.0" height="38.5" fill="#DCDDDE"/>
<rect x="676.5" y="298.9" width="55.0" height="38.5" fill="#DCDDDE"/>
<rect x="733.3" y="298.9" width="55.0" height="38.5" fill="#DCDDDE"/>
<rect x="790.1" y="298.9" width="55.6" height="38.5" fill="#DCDDDE"/>
<text x="32.8" y="316.4" font-size="15.8" fill="#fff" textLength="74.5" lengthAdjust="spacingAndGlyphs" stroke="#fff" stroke-width="0.45">Haemophilus</text>
<text x="32.8" y="332.2" font-size="15.8" fill="#fff" textLength="126.2" lengthAdjust="spacingAndGlyphs" stroke="#fff" stroke-width="0.45">Influenzae de type b (HIB)</text>
<rect x="29" y="339.8" width="134" height="38.5" fill="#FDB813"/>
<rect x="165.3" y="339.8" width="55.0" height="38.5" fill="#DCDDDE"/>
<rect x="222.1" y="339.8" width="55.0" height="38.5" fill="#FDB813"/>
<rect x="278.9" y="339.8" width="55.0" height="38.5" fill="#FDB813"/>
<rect x="335.7" y="339.8" width="55.0" height="38.5" fill="#FDB813"/>
<rect x="392.5" y="339.8" width="55.0" height="38.5" fill="#DCDDDE"/>
<rect x="449.3" y="339.8" width="55.0" height="38.5" fill="#DCDDDE"/>
<rect x="506.1" y="339.8" width="55.0" height="38.5" fill="#DCDDDE"/>
<rect x="562.9" y="339.8" width="55.0" height="38.5" fill="#DCDDDE"/>
<rect x="619.7" y="339.8" width="55.0" height="38.5" fill="#DCDDDE"/>
<rect x="676.5" y="339.8" width="55.0" height="38.5" fill="#DCDDDE"/>
<rect x="733.3" y="339.8" width="55.0" height="38.5" fill="#DCDDDE"/>
<rect x="790.1" y="339.8" width="55.6" height="38.5" fill="#DCDDDE"/>
<text x="32.8" y="365.2" font-size="15.8" fill="#fff" textLength="58.7" lengthAdjust="spacingAndGlyphs" stroke="#fff" stroke-width="0.45">Hépatite B</text>
<rect x="29" y="380.7" width="134" height="38.5" fill="#EC3F8F"/>
<rect x="165.3" y="380.7" width="55.0" height="38.5" fill="#DCDDDE"/>
<rect x="222.1" y="380.7" width="55.0" height="38.5" fill="#EC3F8F"/>
<rect x="278.9" y="380.7" width="55.0" height="38.5" fill="#EC3F8F"/>
<rect x="335.7" y="380.7" width="55.0" height="38.5" fill="#EC3F8F"/>
<rect x="392.5" y="380.7" width="55.0" height="38.5" fill="#DCDDDE"/>
<rect x="449.3" y="380.7" width="55.0" height="38.5" fill="#DCDDDE"/>
<rect x="506.1" y="380.7" width="55.0" height="38.5" fill="#DCDDDE"/>
<rect x="562.9" y="380.7" width="55.0" height="38.5" fill="#DCDDDE"/>
<rect x="619.7" y="380.7" width="55.0" height="38.5" fill="#DCDDDE"/>
<rect x="676.5" y="380.7" width="55.0" height="38.5" fill="#DCDDDE"/>
<rect x="733.3" y="380.7" width="55.0" height="38.5" fill="#DCDDDE"/>
<rect x="790.1" y="380.7" width="55.6" height="38.5" fill="#DCDDDE"/>
<text x="32.8" y="406.1" font-size="15.8" fill="#fff" textLength="79.8" lengthAdjust="spacingAndGlyphs" stroke="#fff" stroke-width="0.45">Pneumocoque</text>
<rect x="29" y="421.6" width="134" height="38.5" fill="#EC3F8F"/>
<rect x="165.3" y="421.6" width="55.0" height="38.5" fill="#DCDDDE"/>
<rect x="222.1" y="421.6" width="55.0" height="38.5" fill="#DCDDDE"/>
<rect x="278.9" y="421.6" width="55.0" height="38.5" fill="#DCDDDE"/>
<rect x="335.7" y="421.6" width="55.0" height="38.5" fill="#DCDDDE"/>
<rect x="392.5" y="421.6" width="55.0" height="38.5" fill="#EC3F8F"/>
<rect x="449.3" y="421.6" width="55.0" height="38.5" fill="#DCDDDE"/>
<rect x="506.1" y="421.6" width="55.0" height="38.5" fill="#DCDDDE"/>
<rect x="562.9" y="421.6" width="55.0" height="38.5" fill="#DCDDDE"/>
<rect x="619.7" y="421.6" width="55.0" height="38.5" fill="#DCDDDE"/>
<rect x="676.5" y="421.6" width="55.0" height="38.5" fill="#DCDDDE"/>
<rect x="733.3" y="421.6" width="55.0" height="38.5" fill="#DCDDDE"/>
<rect x="790.1" y="421.6" width="55.6" height="38.5" fill="#DCDDDE"/>
<text x="32.8" y="447.0" font-size="15.8" fill="#fff" textLength="92.5" lengthAdjust="spacingAndGlyphs" stroke="#fff" stroke-width="0.45">Méningocoque C</text>
<rect x="29" y="462.5" width="134" height="38.5" fill="#E5053A"/>
<rect x="165.3" y="462.5" width="55.0" height="38.5" fill="#DCDDDE"/>
<rect x="222.1" y="462.5" width="55.0" height="38.5" fill="#DCDDDE"/>
<rect x="278.9" y="462.5" width="55.0" height="38.5" fill="#DCDDDE"/>
<rect x="335.7" y="462.5" width="55.0" height="38.5" fill="#DCDDDE"/>
<rect x="392.5" y="462.5" width="55.0" height="38.5" fill="#E5053A"/>
<rect x="449.3" y="462.5" width="55.0" height="38.5" fill="#E5053A"/>
<rect x="506.1" y="462.5" width="55.0" height="38.5" fill="#DCDDDE"/>
<rect x="562.9" y="462.5" width="55.0" height="38.5" fill="#DCDDDE"/>
<rect x="619.7" y="462.5" width="55.0" height="38.5" fill="#DCDDDE"/>
<rect x="676.5" y="462.5" width="55.0" height="38.5" fill="#DCDDDE"/>
<rect x="733.3" y="462.5" width="55.0" height="38.5" fill="#DCDDDE"/>
<rect x="790.1" y="462.5" width="55.6" height="38.5" fill="#DCDDDE"/>
<text x="32.8" y="480.0" font-size="15.8" fill="#fff" textLength="116" lengthAdjust="spacingAndGlyphs" stroke="#fff" stroke-width="0.45">Rougeole-Oreillons-</text>
<text x="32.8" y="495.8" font-size="15.8" fill="#fff" textLength="46.4" lengthAdjust="spacingAndGlyphs" stroke="#fff" stroke-width="0.45">Rubéole</text>
<rect x="29" y="503.4" width="134" height="38.5" fill="#F37021"/>
<rect x="165.3" y="503.4" width="55.0" height="38.5" fill="#DCDDDE"/>
<rect x="222.1" y="503.4" width="55.0" height="38.5" fill="#DCDDDE"/>
<rect x="278.9" y="503.4" width="55.0" height="38.5" fill="#DCDDDE"/>
<rect x="335.7" y="503.4" width="55.0" height="38.5" fill="#DCDDDE"/>
<rect x="392.5" y="503.4" width="55.0" height="38.5" fill="#DCDDDE"/>
<rect x="449.3" y="503.4" width="55.0" height="38.5" fill="#DCDDDE"/>
<rect x="506.1" y="503.4" width="55.0" height="38.5" fill="#DCDDDE"/>
<rect x="562.9" y="503.4" width="111.8" height="38.5" fill="#F37021"/>
<rect x="676.5" y="503.4" width="55.0" height="38.5" fill="#DCDDDE"/>
<rect x="733.3" y="503.4" width="55.0" height="38.5" fill="#DCDDDE"/>
<rect x="790.1" y="503.4" width="55.6" height="38.5" fill="#DCDDDE"/>
<text x="32.8" y="520.9" font-size="15.8" fill="#fff" textLength="87.4" lengthAdjust="spacingAndGlyphs" stroke="#fff" stroke-width="0.45">Papillomavirus</text>
<text x="32.8" y="536.7" font-size="15.8" fill="#fff" textLength="77.1" lengthAdjust="spacingAndGlyphs" stroke="#fff" stroke-width="0.45">humain (HPV)</text>
<rect x="29" y="544.3" width="134" height="38.5" fill="#1AB0EE"/>
<rect x="165.3" y="544.3" width="55.0" height="38.5" fill="#DCDDDE"/>
<rect x="222.1" y="544.3" width="55.0" height="38.5" fill="#DCDDDE"/>
<rect x="278.9" y="544.3" width="55.0" height="38.5" fill="#DCDDDE"/>
<rect x="335.7" y="544.3" width="55.0" height="38.5" fill="#DCDDDE"/>
<rect x="392.5" y="544.3" width="55.0" height="38.5" fill="#DCDDDE"/>
<rect x="449.3" y="544.3" width="55.0" height="38.5" fill="#DCDDDE"/>
<rect x="506.1" y="544.3" width="55.0" height="38.5" fill="#DCDDDE"/>
<rect x="562.9" y="544.3" width="55.0" height="38.5" fill="#DCDDDE"/>
<rect x="619.7" y="544.3" width="55.0" height="38.5" fill="#DCDDDE"/>
<rect x="676.5" y="544.3" width="55.0" height="38.5" fill="#DCDDDE"/>
<rect x="733.3" y="544.3" width="55.0" height="38.5" fill="#DCDDDE"/>
<rect x="790.1" y="544.3" width="55.6" height="38.5" fill="#1AB0EE"/>
<text x="32.8" y="569.7" font-size="15.8" fill="#fff" textLength="36.8" lengthAdjust="spacingAndGlyphs" stroke="#fff" stroke-width="0.45">Grippe</text>
<text x="807.8" y="234.4" font-size="11.6" fill="#0b1210" stroke="#0b1210" stroke-width="0.3" textLength="19.2" lengthAdjust="spacingAndGlyphs">Tous</text>
<text x="796.2" y="247.2" font-size="11.6" fill="#0b1210" stroke="#0b1210" stroke-width="0.3" textLength="41.7" lengthAdjust="spacingAndGlyphs">les 10 ans</text>
<text x="807.8" y="561.6" font-size="11.6" fill="#0b1210" stroke="#0b1210" stroke-width="0.3" textLength="19.2" lengthAdjust="spacingAndGlyphs">Tous</text>
<text x="802.2" y="574.4" font-size="11.6" fill="#0b1210" stroke="#0b1210" stroke-width="0.3" textLength="29.7" lengthAdjust="spacingAndGlyphs">les ans</text>
</svg></body></html>
